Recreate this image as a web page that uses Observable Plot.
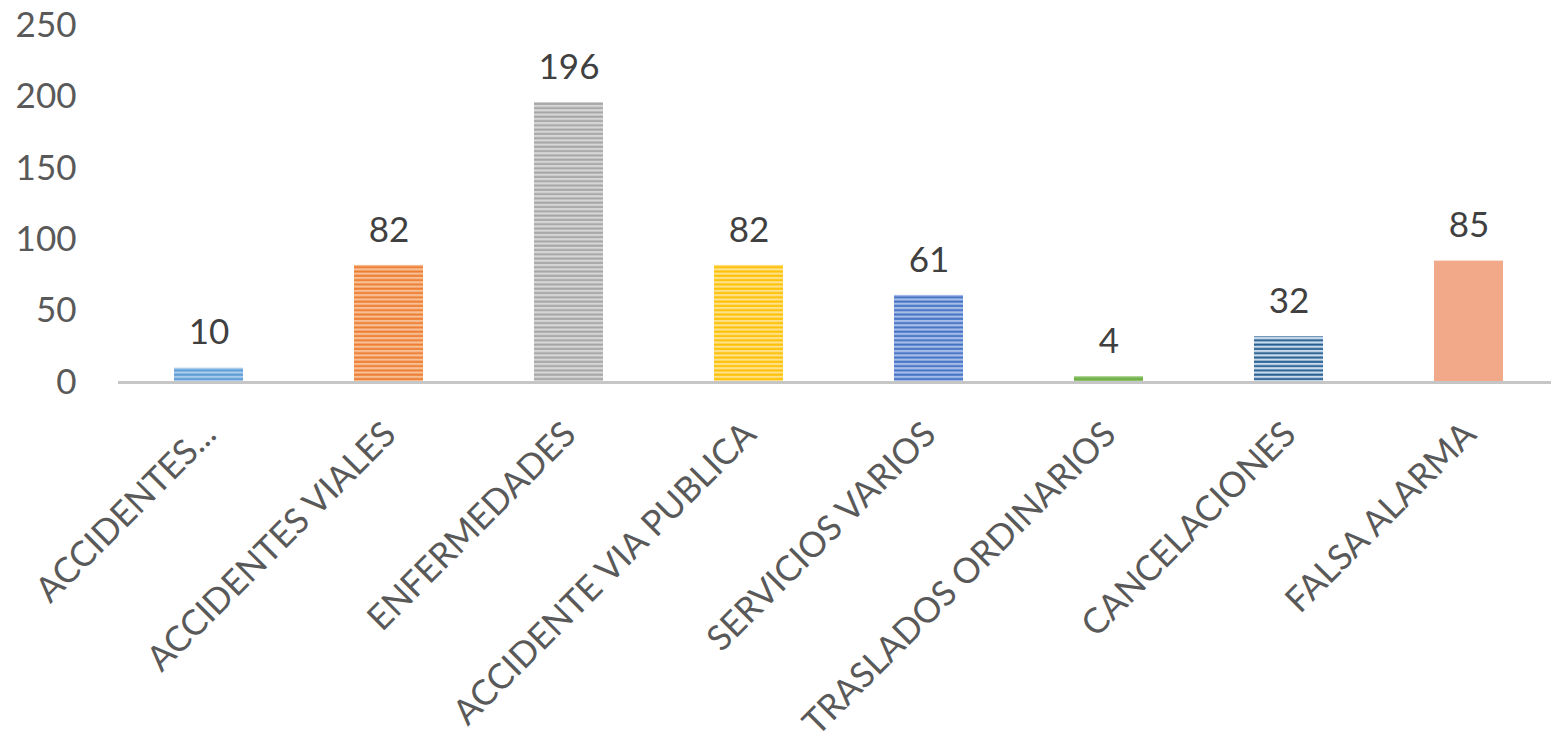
<!DOCTYPE html>
<html>
<head>
<meta charset="utf-8">
<script src="https://cdn.jsdelivr.net/npm/d3@7"></script>
<script src="https://cdn.jsdelivr.net/npm/@observablehq/plot@0.6"></script>
<style>
  html, body { margin: 0; padding: 0; background: #fff; overflow: hidden; }
  #chart svg { display: block; }
</style>
</head>
<body>
<div id="chart"></div>
<script>
const categories = ["ACCIDENTES...", "ACCIDENTES VIALES", "ENFERMEDADES", "ACCIDENTE VIA PUBLICA", "SERVICIOS VARIOS", "TRASLADOS ORDINARIOS", "CANCELACIONES", "FALSA ALARMA"];
const values = [10, 82, 196, 82, 61, 4, 32, 85];
const baseColors = ["#5B9BD5", "#ED7D31", "#A5A5A5", "#FFC000", "#4472C4", "#70AD47", "#255E91", "#F1A98A"];
const lightColors = ["#A9CCEC", "#F8BE94", "#D6D6D6", "#FFE189", "#A6BDE8", "#8CC46A", "#C9DAEC", "#F1A98A"];
const yTicks = [0, 50, 100, 150, 200, 250];

const data = categories.map((c, i) => ({category: c, value: values[i], idx: i}));

const defs = () => {
  const d = d3.create("svg:defs");
  baseColors.forEach((c, i) => {
    const p = d.append("pattern")
      .attr("id", "pat" + i)
      .attr("patternUnits", "userSpaceOnUse")
      .attr("width", 8).attr("height", 4.3);
    p.append("rect").attr("width", 8).attr("height", 4.3).attr("fill", c);
    p.append("rect").attr("y", 1.6).attr("width", 8).attr("height", 2.3).attr("fill", lightColors[i]);
  });
  return d.node();
};

const chart = Plot.plot({
  width: 1551,
  height: 742,
  marginTop: 25,
  marginBottom: 360,
  marginLeft: 118,
  marginRight: 0,
  style: {fontFamily: "Lato, 'Open Sans', sans-serif", background: "#fff"},
  x: {domain: categories, range: [118, 1558], paddingInner: 0.617, paddingOuter: 0.3085, axis: null},
  y: {domain: [0, 250], ticks: yTicks, label: null},
  color: {type: "identity"},
  marks: [
    defs,
    Plot.axisY({ticks: yTicks, tickSize: 0, tickPadding: 42, label: null, fontSize: 35, color: "#595959"}),
    Plot.barY(data, {x: "category", y: "value", fill: d => `url(#pat${d.idx})`}),
    Plot.ruleY([0], {stroke: "#C6C6C6", strokeWidth: 3}),
    Plot.text(data, {x: "category", y: "value", text: d => String(d.value), dy: -35, fontSize: 35, fill: "#404040"}),
    Plot.text(categories, {x: d => d, y: () => 0, text: d => d, rotate: -45, textAnchor: "end", lineAnchor: "bottom", dx: 9, dy: 54, fontSize: 35, fill: "#595959"})
  ]
});

document.getElementById("chart").appendChild(chart);
</script>
</body>
</html>
